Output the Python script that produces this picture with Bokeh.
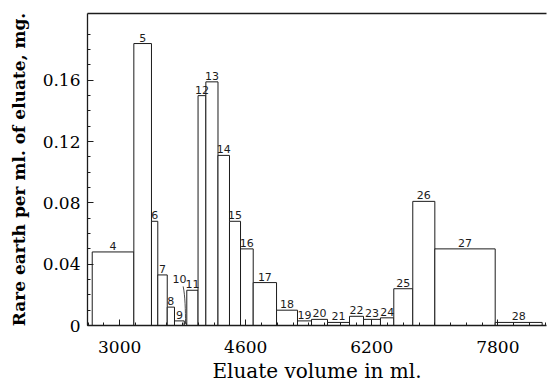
import numpy as np
from bokeh.plotting import figure
from bokeh.models import ColumnDataSource, FixedTicker, LinearAxis, Range1d
from bokeh.core.properties import value
from bokeh.embed import file_html
from bokeh.resources import INLINE

# Fraction numbers of the eluate cuts
fractions = ["4", "5", "6", "7", "8", "9", "10", "11", "12", "13", "14", "15", "16",
             "17", "18", "19", "20", "21", "22", "23", "24", "25", "26", "27", "28"]

# Eluate volume (ml) at the boundaries between consecutive fractions
cut_volumes = [2652, 3180, 3404, 3484, 3604, 3696, 3820, 3852, 3995, 4094, 4248,
               4394, 4534, 4695, 4991, 5257, 5435, 5638, 5917, 6095, 6310, 6479,
               6720, 7000, 7766, 8362]

# Rare earth per ml of eluate (mg) in each fraction
rare_earth = [0.048, 0.184, 0.068, 0.033, 0.012, 0.003, 0.0015, 0.023, 0.150, 0.159,
              0.111, 0.068, 0.050, 0.028, 0.010, 0.003, 0.004, 0.002, 0.006, 0.004,
              0.005, 0.024, 0.081, 0.050, 0.002]

x_ticks = [3000, 4600, 6200, 7800]
y_ticks = [0, 0.04, 0.08, 0.12, 0.16]
y_tick_labels = ["0", "0.04", "0.08", "0.12", "0.16"]

left = cut_volumes[:-1]
right = cut_volumes[1:]
centre = [(a + b) / 2 for a, b in zip(left, right)]

SERIF = "DejaVu Serif"
INK = "#1c1c1c"

p = figure(width=548, height=387, x_range=Range1d(2592, 8417), y_range=Range1d(0, 0.2036),
           output_backend="svg", toolbar_location=None,
           x_axis_label="Eluate volume in ml.",
           y_axis_label="Rare earth per ml. of eluate, mg.")
p.min_border_left = 87
p.min_border_right = 2
p.min_border_top = 13
p.min_border_bottom = 62
p.outline_line_color = None
p.xgrid.visible = False
p.ygrid.visible = False
p.background_fill_color = "white"
p.border_fill_color = "white"

bars = ColumnDataSource(dict(left=left, right=right, top=rare_earth,
                             bottom=[0] * len(rare_earth), xc=centre, label=fractions))
p.quad(left="left", right="right", top="top", bottom="bottom", source=bars,
       fill_color="white", line_color=INK, line_width=1)

# fraction numbers above each cut (10 is placed off to the side with a leader)
idx = [i for i, f in enumerate(fractions) if f != "10"]
labels = ColumnDataSource(dict(x=[centre[i] for i in idx], y=[rare_earth[i] for i in idx],
                               text=[fractions[i] for i in idx]))
p.text(x="x", y="y", text="text", source=labels, text_align="center",
       text_baseline="bottom", y_offset=-2, text_font=value("DejaVu Sans"),
       text_font_size="11px", text_color=INK)

k = fractions.index("10")
p.text(x=[centre[k]], y=[rare_earth[k]], text=["10"], text_align="center",
       text_baseline="middle", x_offset=-6, y_offset=-44,
       text_font=value("DejaVu Sans"), text_font_size="11px", text_color=INK)
p.bezier(x0=[centre[k] - 30], y0=[rare_earth[k] + 0.024], x1=[centre[k]], y1=[rare_earth[k]],
         cx0=[centre[k] - 5], cy0=[rare_earth[k] + 0.018], cx1=[centre[k]],
         cy1=[rare_earth[k] + 0.008], line_color=INK, line_width=0.8)

# axes
xa = p.xaxis[0]
xa.ticker = FixedTicker(ticks=x_ticks, minor_ticks=list(np.arange(2600, 8401, 200)))
ya = p.yaxis[0]
ya.ticker = FixedTicker(ticks=y_ticks, minor_ticks=list(np.round(np.arange(0, 0.2, 0.01), 2)))
ya.major_label_overrides = {t: s for t, s in zip(y_ticks, y_tick_labels)}

for ax in (xa, ya):
    ax.axis_line_color = INK
    ax.axis_line_width = 1.3
    ax.major_tick_in = 6
    ax.major_tick_out = 0
    ax.minor_tick_in = 3
    ax.minor_tick_out = 0
    ax.major_tick_line_color = INK
    ax.minor_tick_line_color = INK
    ax.major_label_text_font = SERIF
    ax.major_label_text_font_size = "17px"
    ax.major_label_text_color = "black"
    ax.axis_label_text_font = SERIF
    ax.axis_label_text_color = "black"

xa.axis_label_text_font_size = "20px"
xa.axis_label_text_font_style = "normal"
ya.axis_label_text_font_size = "17px"
ya.axis_label_text_font_style = "bold"

xa.major_label_standoff = 15
xa.axis_label_standoff = 3
ya.major_label_standoff = 7
ya.axis_label_standoff = 11

# plain rule along the top of the frame
top = LinearAxis(ticker=FixedTicker(ticks=[]), major_label_text_font_size="0px",
                 major_tick_line_color=None, minor_tick_line_color=None,
                 axis_line_color=INK, axis_line_width=1.3)
p.add_layout(top, "above")

open("out.html", "w").write(file_html(p, INLINE))
